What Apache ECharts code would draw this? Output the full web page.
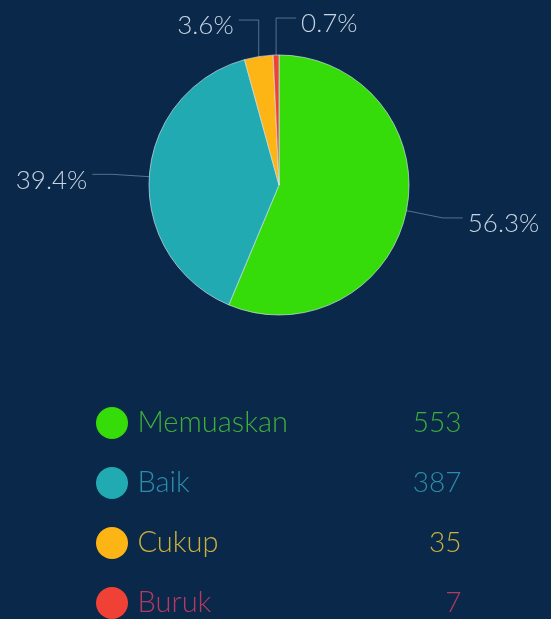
<!DOCTYPE html>
<html>
<head>
<meta charset="utf-8">
<script src="https://cdn.jsdelivr.net/npm/echarts@6/dist/echarts.min.js"></script>
<style>
html,body{margin:0;padding:0;background:#0a2849;}
#chart{width:551px;height:619px;}
</style>
</head>
<body>
<div id="chart"></div>
<script>
var categories = ['Memuaskan', 'Baik', 'Cukup', 'Buruk'];
var values = [553, 387, 35, 7];
var sliceColors = ['#35dc0a', '#22aab3', '#fdb515', '#ef4136'];
var legendTextColors = ['#3fae3a', '#2b8cab', '#c9b23c', '#b43a64'];

var total = values.reduce(function (a, b) { return a + b; }, 0);
var data = categories.map(function (c, i) {
  return { name: c, value: values[i], itemStyle: { color: sliceColors[i] } };
});

var rich = {};
categories.forEach(function (c, i) {
  rich['n' + i] = { color: legendTextColors[i], fontSize: 29, width: 244, fontFamily: 'Lato', fontWeight: 300, padding: [0, 0, 0, 4] };
  rich['v' + i] = { color: legendTextColors[i], fontSize: 28, width: 80, align: 'right', fontFamily: 'Lato', fontWeight: 300 };
});

var chart = echarts.init(document.getElementById('chart'), null, { renderer: 'canvas' });
chart.setOption({
  backgroundColor: '#0a2849',
  animation: false,
  legend: {
    type: 'plain',
    orient: 'vertical',
    left: 96,
    top: 407,
    padding: 0,
    icon: 'circle',
    itemWidth: 33,
    itemHeight: 32,
    itemGap: 28,
    selectedMode: false,
    itemStyle: { borderWidth: 0 },
    data: categories,
    formatter: function (name) {
      var i = categories.indexOf(name);
      return '{n' + i + '|' + name + '}{v' + i + '|' + values[i] + '}';
    },
    textStyle: { rich: rich }
  },
  series: [{
    type: 'pie',
    center: [279, 185],
    radius: 130,
    startAngle: 90,
    clockwise: true,
    avoidLabelOverlap: false,
    data: data,
    itemStyle: { borderColor: 'rgba(215,230,240,0.65)', borderWidth: 1 },
    label: {
      show: true,
      color: '#c5d3e3',
      fontSize: 26,
      fontFamily: 'Lato',
      fontWeight: 300,
      formatter: function (p) { return (p.value / total * 100).toFixed(1) + '%'; }
    },
    labelLine: {
      show: true,
      length: 37,
      length2: 20,
      lineStyle: { color: 'rgba(150,172,196,0.55)', width: 1 }
    },
    labelLayout: function (p) {
      var pts = p.labelLinePoints;
      if (!pts) return {};
      if (p.dataIndex < 2) {
        return { y: pts[2][1] + 6, labelLinePoints: pts };
      }
      var side = p.dataIndex === 3 ? 1 : -1;
      var x0 = pts[0][0], y1 = pts[1][1];
      var len2 = Math.abs(pts[2][0] - pts[1][0]);
      var x2 = x0 + side * len2;
      return {
        x: x2 + side * 5,
        y: y1 + 6,
        align: side > 0 ? 'left' : 'right',
        labelLinePoints: [pts[0], [x0, y1], [x2, y1]]
      };
    }
  }]
});
</script>
</body>
</html>
